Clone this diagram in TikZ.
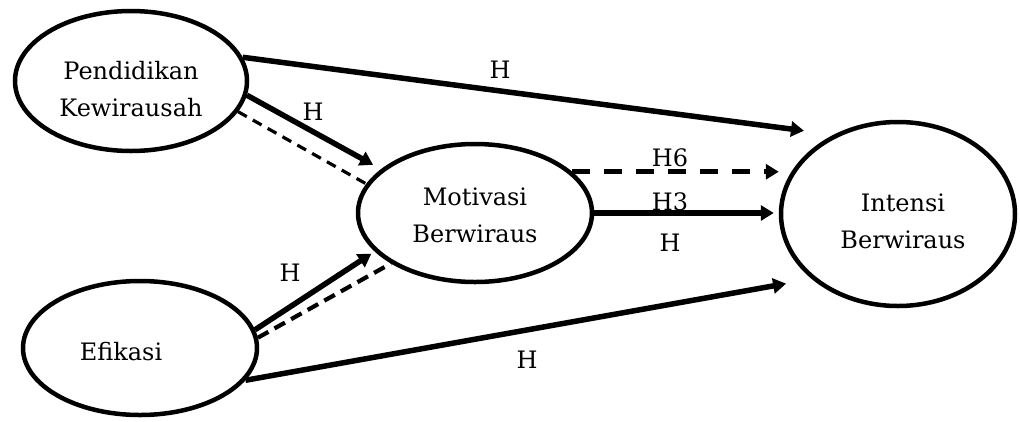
\documentclass[tikz,border=0pt]{standalone}
\usepackage{fontspec}
\setmainfont{DejaVu Serif}
\usetikzlibrary{shapes.geometric}
\usetikzlibrary{arrows.meta}

\begin{document}
\begin{tikzpicture}[x=1pt, y=-1pt,
  var/.style={ellipse, draw, line width=4.5pt, inner sep=0pt},
  lbl/.style={font=\fontsize{24pt}{37pt}\selectfont, align=center, inner sep=0pt},
  arr/.style={line width=5.5pt, -{Triangle[length=13pt,width=15pt]}},
  dashthin/.style={line width=3.2pt, dash pattern=on 10pt off 7pt},
  dashmid/.style={line width=4.2pt, dash pattern=on 12pt off 7pt},
  dashthick/.style={line width=5.5pt, dash pattern=on 18pt off 14pt}]

\useasboundingbox (0,0) rectangle (1020,421);

% variables
\node[var, minimum width=232pt, minimum height=140pt,
  label={[lbl,yshift=-8pt]center:Pendidikan\\Kewirausah}] (pk) at (131,81) {};
\node[var, minimum width=234pt, minimum height=134pt,
  label={[lbl,xshift=-19pt,yshift=-4pt]center:Efikasi}] (ef) at (140,348) {};
\node[var, minimum width=234pt, minimum height=138pt,
  label={[lbl,yshift=-2pt]center:Motivasi\\Berwiraus}] (mo) at (475,213) {};
\node[var, minimum width=234pt, minimum height=184pt,
  label={[lbl,xshift=5pt,yshift=-7pt]center:Intensi\\Berwiraus}] (in) at (898,214) {};

% paths
\draw[arr, shorten >=30pt] (pk.12.6) -- (in.129.4);
\draw[arr, shorten >=9pt] (pk.-7.8) -- (mo.155.4);
\draw[dashthin] (pk.-16.2) -- (mo.165);
\draw[arr, shorten >=4pt] (ef.9.3) -- (mo.-159.3);
\draw[dashmid] (ef.5) -- (mo.-149.5);
\draw[arr, shorten >=26pt] (ef.-17.5) -- (in.-143);
\draw[dashthick, -{Triangle[length=13pt,width=15pt]}] (mo.23.2) -- (mo.23.2 -| in.west);
\draw[arr, shorten >=5pt] (mo.east) -- (mo.east -| in.west);

% hypotheses
\node[lbl] (h1) at (500,70) {H};
\node[lbl] (h2) at (313,112) {H};
\node[lbl] (h6) at (670,158) {H6};
\node[lbl] (h3) at (670,202) {H3};
\node[lbl] (h4) at (670,243) {H};
\node[lbl] (h5) at (290,273) {H};
\node[lbl] (h7) at (527,360) {H};

\end{tikzpicture}
\end{document}
